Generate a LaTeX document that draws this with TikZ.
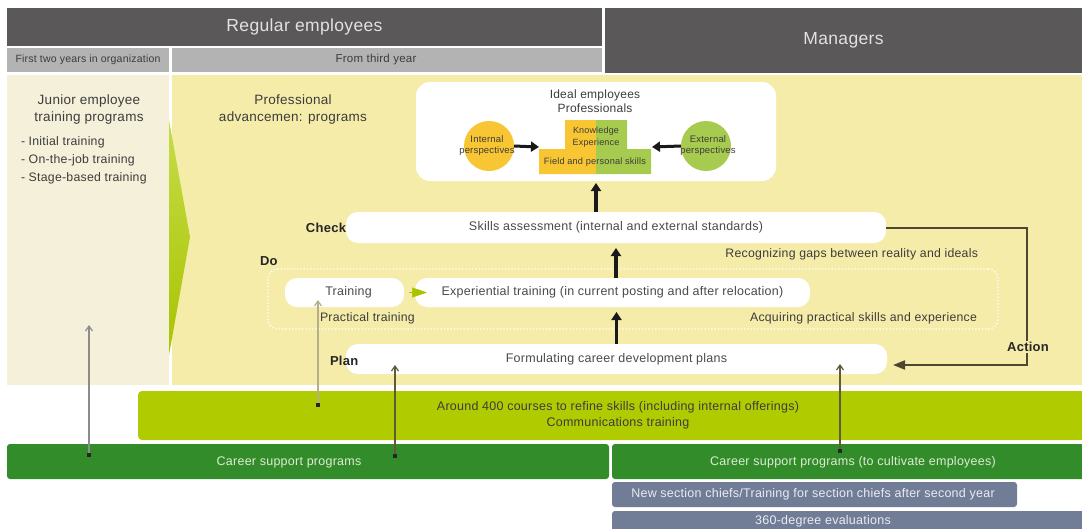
\documentclass[tikz,border=0pt]{standalone}
\usepackage{fontspec}
\setmainfont{Liberation Sans}[LetterSpace=2]
\usetikzlibrary{arrows.meta,calc}
\definecolor{hdr}{HTML}{5A5858}
\definecolor{hdrtxt}{HTML}{E2E2E2}
\definecolor{subhdr}{HTML}{B3B3B3}
\definecolor{leftp}{HTML}{F5F0DA}
\definecolor{mainp}{HTML}{F6ECAA}
\definecolor{lime}{HTML}{B0CC00}
\definecolor{dgreen}{HTML}{338C2A}
\definecolor{cstxt}{HTML}{DDEBD6}
\definecolor{slate}{HTML}{717C97}
\definecolor{slatetxt}{HTML}{E8ECF2}
\definecolor{ybal}{HTML}{F8C632}
\definecolor{gbal}{HTML}{A6CB4E}
\definecolor{txt}{HTML}{3C3C3C}
\definecolor{boxtxt}{HTML}{4A4A4A}
\definecolor{actc}{HTML}{4E4632}
\definecolor{chev}{HTML}{A8C400}
\definecolor{chevtop}{HTML}{C6DC4A}
\definecolor{lgray}{HTML}{8C8C8C}
\definecolor{beige}{HTML}{B5AE8A}
\definecolor{olive}{HTML}{5F5A3A}
\begin{document}
\begin{tikzpicture}[x=1pt,y=-1pt,
  every node/.style={inner sep=0pt, outer sep=0pt},
  header/.style={fill=hdr, text=hdrtxt, font=\fontsize{17.5}{20}\selectfont},
  subheader/.style={fill=subhdr, text=txt, font=\fontsize{10.5}{12}\selectfont},
  wbox/.style={fill=white, rounded corners=12pt, text=boxtxt, font=\fontsize{12.5}{15}\selectfont},
  lbl/.style={text=txt, font=\fontsize{12.3}{15}\selectfont},
  pdca/.style={text=black!85, font=\bfseries\fontsize{13}{15}\selectfont},
  fat/.style={line width=3.5pt, black!90, -{Triangle[width=10pt,length=8pt]}},
  linkarr/.style={line width=1.2pt, -{Straight Barb[length=5pt,width=7pt]}},
  startdot/.style={fill=black!85, rectangle, minimum size=3.5pt}
]
\clip (0,0) rectangle (1082,528);
\fill[white] (0,0) rectangle (1082,528);

% headers
\node[header, minimum width=595pt, minimum height=38pt] (reg) at (304.5,27) {Regular employees};
\node[header, minimum width=477pt, minimum height=65pt] (mgr) at (843.5,40.5) {Managers};
\node[subheader, minimum width=162pt, minimum height=24pt] (first) at (88,60) {First two years in organization};
\node[subheader, minimum width=430pt, minimum height=24pt] (third) at (387,60) {};
\node[text=txt, font=\fontsize{11.5}{13}\selectfont] (thirdtxt) at (376,60) {From third year};

% panels
\node[fill=leftp, minimum width=162pt, minimum height=310pt] (leftpanel) at (88,230) {};
\node[fill=mainp, minimum width=910pt, minimum height=310pt] (mainpanel) at (627,230) {};
\shade[top color=chevtop, bottom color=chev] (169,120) -- (190,237) -- (169,355) -- cycle;

% left panel texts
\node[lbl, align=center, font=\fontsize{13.5}{17}\selectfont] (junior) at (89,110) {Junior employee\\training programs};
\node[lbl, align=left, anchor=north west, font=\fontsize{12.3}{18}\selectfont] (jlist) at (21,137) {- Initial training\\- On-the-job training\\- Stage-based training};
\node[lbl, align=center, font=\fontsize{13.5}{17}\selectfont] (prof) at (293,110) {Professional\\advancemen: programs};

% ideal box
\node[fill=white, rounded corners=14pt, minimum width=360pt, minimum height=99pt] (ideal) at (596,131.5) {};
\node[lbl, align=center, font=\fontsize{12}{14}\selectfont] (idealtxt) at (595,101) {Ideal employees\\Professionals};
\node[circle, fill=ybal, minimum size=50pt] (intc) at (489,146) {};
\node[circle, fill=gbal, minimum size=50pt] (extc) at (706,146) {};
\node[text=txt, align=center, font=\fontsize{9.5}{11}\selectfont] (inttxt) at (487,146) {Internal\\perspectives};
\node[text=txt, align=center, font=\fontsize{9.5}{11}\selectfont] (exttxt) at (708,146) {External\\perspectives};
\fill[ybal] (565,120) -- (596,120) -- (596,174) -- (539,174) -- (539,149) -- (565,149) -- cycle;
\fill[gbal] (596,120) -- (627,120) -- (627,149) -- (651,149) -- (651,174) -- (596,174) -- cycle;
\node[text=txt, align=center, font=\fontsize{9}{12}\selectfont] (knowl) at (596,137) {Knowledge\\Experience};
\node[text=txt, font=\fontsize{9.2}{10}\selectfont] (field) at (595,162) {Field and personal skills};
\coordinate (tl) at (539,147);
\coordinate (tr) at (652,147);
\draw[fat, line width=3pt] (intc.east) -- (tl);
\draw[fat, line width=3pt] (extc.west) -- (tr);

% PDCA
\node[wbox, minimum width=540pt, minimum height=31pt] (check) at (616,227.5) {Skills assessment (internal and external standards)};
\node[pdca, anchor=east] (checkl) at (346,228) {Check};
\draw[fat, shorten >=2pt] (ideal.south |- check.north) -- (ideal.south);
\node[lbl, anchor=east] (gaps) at (978,254) {Recognizing gaps between reality and ideals};
\node[pdca, anchor=west] (dol) at (260,261) {Do};
\node[draw=white, dotted, line width=1.3pt, rounded corners=10pt, minimum width=730pt, minimum height=60pt] (dobox) at (633,299) {};
\node[wbox, minimum width=119pt, minimum height=29pt] (train) at (344.5,292.5) {\hspace*{8pt}Training};
\node[wbox, minimum width=395pt, minimum height=29pt] (exper) at (612.5,292.5) {Experiential training (in current posting and after relocation)};
\draw[chev, line width=0.5pt, -{Triangle[width=10pt,length=15pt]}, shorten <=5pt, shorten >=-12pt] (train.east) -- (exper.west);
\node[lbl, anchor=west] (practl) at (320,318) {Practical training};
\node[lbl, anchor=east] (acq) at (977,318) {Acquiring practical skills and experience};
\draw[fat, shorten >=5pt] (exper.north -| check.south) -- (check.south);
\node[wbox, minimum width=541pt, minimum height=30pt] (plan) at (616.5,359) {Formulating career development plans};
\node[pdca, anchor=west] (planl) at (330,361) {Plan};
\draw[fat, shorten >=5pt] (plan.north) -- (plan.north |- exper.south);

% Action loop
\draw[actc, line width=2pt, -{Triangle[width=9pt,length=12pt]}, shorten >=6pt] (check.east) -- ++(141,0) |- ([yshift=-6pt]plan.east);
\node[pdca, fill=mainp, inner sep=1.5pt] (actl) at (1028,347) {Action};

% bottom bands
\node[fill=lime, rounded corners=4pt, minimum width=960pt, minimum height=49pt, anchor=west, text=txt, align=center, font=\fontsize{12.5}{16}\selectfont] (courses) at (138,415.5) {Around 400 courses to refine skills (including internal offerings)\\Communications training};
\node[fill=dgreen, rounded corners=3pt, minimum width=602pt, minimum height=35pt] (csl) at (308,461.5) {};
\node[text=cstxt, font=\fontsize{12.5}{14}\selectfont] (csltxt) at (289,462) {Career support programs};
\node[fill=dgreen, rounded corners=3pt, minimum width=478pt, minimum height=35pt] (csr) at (851,461.5) {};
\node[text=cstxt, font=\fontsize{12.5}{14}\selectfont] (csrtxt) at (853,462) {Career support programs (to cultivate employees)};
\node[fill=slate, rounded corners=3pt, minimum width=405pt, minimum height=25pt] (sec) at (814.5,494.5) {};
\node[text=slatetxt, font=\fontsize{12.5}{14}\selectfont] (sectxt) at (813,494) {New section chiefs/Training for section chiefs after second year};
\node[fill=slate, rounded corners=3pt, minimum width=478pt, minimum height=29pt] (deg) at (851,525.5) {};
\node[text=slatetxt, font=\fontsize{12.5}{14}\selectfont] (degtxt) at (823,521) {360-degree evaluations};

% thin link arrows
\node[startdot] (d1) at (89,455) {};
\node[startdot] (d2) at (318,405) {};
\node[startdot] (d3) at (395,456) {};
\node[startdot] (d4) at (840,451) {};
\coordinate (e1) at (89,325);
\coordinate (e2) at (318,300);
\coordinate (e3) at (395,365);
\coordinate (e4) at (840,364);
\draw[linkarr, lgray] (d1) -- (e1);
\draw[linkarr, beige] (d2) -- (e2);
\draw[linkarr, olive] (d3) -- (e3);
\draw[linkarr, olive] (d4) -- (e4);
\end{tikzpicture}
\end{document}
